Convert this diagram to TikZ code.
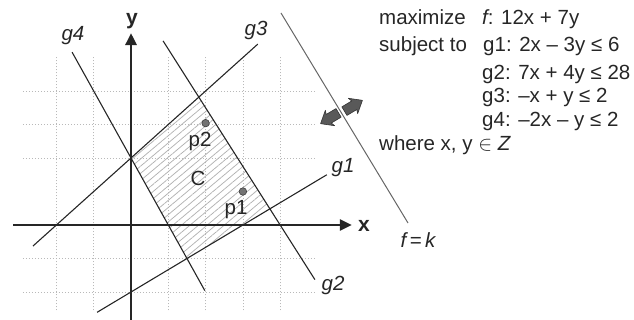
\documentclass[tikz,border=0pt]{standalone}
\usepackage{fontspec}
\setmainfont{Liberation Sans}
\usetikzlibrary{patterns.meta,arrows.meta}
\begin{document}
\begin{tikzpicture}[x=1pt,y=1pt,
  every node/.style={font=\fontsize{20.5}{24}\selectfont, inner sep=0pt, text=black!85},
  gridline/.style={draw=gray!55, line width=0.7pt, dash pattern=on 1.1pt off 1.9pt},
  cline/.style={draw=black!85, line width=1.1pt},
  axisline/.style={draw=black!85, line width=2.6pt, -{Triangle[length=12pt,width=11pt]}},
  objline/.style={draw=black!60, line width=1pt},
  dotpt/.style={circle, fill=black!55, draw=black!75, line width=0.6pt, minimum size=7.5pt},
  blockarrow/.style={fill=black!65, draw=black!80, line width=0.6pt, line join=round},
  hatch/.style={pattern={Lines[angle=40,distance=5.5pt,line width=0.75pt]}, pattern color=gray!60},
  glabel/.style={font=\fontsize{20.5}{24}\selectfont\itshape},
  axlabel/.style={font=\fontsize{21}{24}\selectfont\bfseries}
]
\useasboundingbox (0,0) rectangle (634,-320);

\begin{scope}[shift={(131,-225)}, x=37.3pt, y=33.5pt]
  % grid
  \foreach \gx in {-2,-1,1,2,3,4}
    \draw[gridline] (\gx,-2.55) -- (\gx,5.0);
  \foreach \gy in {-2,-1,2,3,4}
    \draw[gridline] (-2.9,\gy) -- (4.93,\gy);
  % feasible region
  \coordinate (v1) at (0,2);
  \coordinate (v2) at (1.818,3.818);
  \coordinate (v3) at (3.724,0.483);
  \coordinate (v4) at (1.5,-1);
  \fill[hatch] (v1) -- (v2) -- (v3) -- (v4) -- cycle;
  % constraint lines
  \coordinate (g3a) at (-2.63,-0.63);
  \coordinate (g3b) at (3.4,5.4);
  \coordinate (g4a) at (-1.58,5.16);
  \coordinate (g4b) at (1.98,-1.96);
  \coordinate (g1a) at (-0.91,-2.607);
  \coordinate (g1b) at (5.25,1.5);
  \coordinate (g2a) at (0.86,5.495);
  \coordinate (g2b) at (4.93,-1.63);
  \draw[cline] (g3a) -- (g3b);
  \draw[cline] (g4a) -- (g4b);
  \draw[cline] (g1a) -- (g1b);
  \draw[cline] (g2a) -- (g2b);
  % axes
  \coordinate (xs) at (-3.16,0);
  \coordinate (xe) at (5.92,0);
  \coordinate (ys) at (0,-3.0);
  \coordinate (ye) at (0,5.73);
  \draw[axisline] (xs) -- (xe);
  \draw[axisline] (ys) -- (ye);
  % points
  \node[dotpt] (p2) at (2,3.04) {};
  \node[dotpt] (p1) at (3,1) {};
\end{scope}

% point labels and region label
\node (lp2) at (200,-141) {p2};
\node (lp1) at (236,-210) {p1};
\node (lC) at (198,-178) {C};

% axis labels
\node[axlabel] (lx) at (364,-226) {x};
\node[axlabel] (ly) at (132,-21) {y};

% constraint labels
\node[glabel] (lg1) at (343,-168) {g1};
\node[glabel] (lg2) at (333,-285) {g2};
\node[glabel] (lg3) at (256,-30) {g3};
\node[glabel] (lg4) at (73,-36) {g4};

% objective line
\coordinate (fa) at (281,-13);
\coordinate (fb) at (408,-223);
\draw[objline] (fa) -- (fb);
\node[glabel] (lf) at (418,-240) {f\,=\,k};

% direction arrows
\begin{scope}[shift={(330,-118)}, rotate=211]
  \draw[blockarrow] (-10,-5) -- (1.5,-5) -- (0,-9) -- (11,0) -- (0,9) -- (1.5,5) -- (-10,5) -- cycle;
\end{scope}
\begin{scope}[shift={(353,-106)}, rotate=31]
  \draw[blockarrow] (-10,-5) -- (1.5,-5) -- (0,-9) -- (11,0) -- (0,9) -- (1.5,5) -- (-10,5) -- cycle;
\end{scope}

% model text
\node[anchor=base west] (t1) at (379,-25) {maximize};
\node[anchor=base west] (t1b) at (482,-25) {\itshape f\upshape: 12x + 7y};
\node[anchor=base west] (t2) at (379,-52) {subject to};
\node[anchor=base west] (t2b) at (483,-52) {g1: 2x – 3y ≤ 6};
\node[anchor=base west] (t3) at (482,-80) {g2: 7x + 4y ≤ 28};
\node[anchor=base west] (t4) at (482,-103) {g3: –x + y ≤ 2};
\node[anchor=base west] (t5) at (482,-127) {g4: –2x – y ≤ 2};
\node[anchor=base west] (t6) at (379,-151) {where x, y $\in$ \itshape Z};
\end{tikzpicture}
\end{document}
